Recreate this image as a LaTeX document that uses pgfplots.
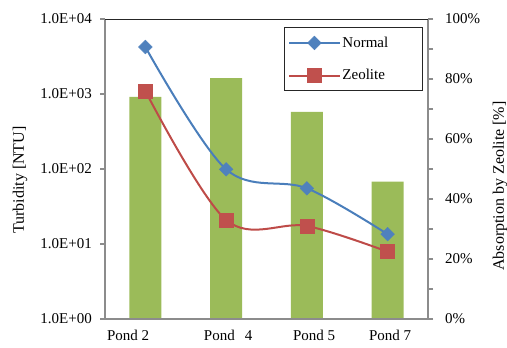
\documentclass[border=0pt]{standalone}
\usepackage{fontspec}
\setmainfont{Liberation Serif}
\usepackage{pgfplots}
\pgfplotsset{compat=1.18}
\definecolor{exblue}{HTML}{4A7EBB}
\definecolor{exbluem}{HTML}{4F81BD}
\definecolor{exred}{HTML}{BE4B48}
\definecolor{exredm}{HTML}{C0504D}
\definecolor{exgreen}{HTML}{9BBB59}
\definecolor{axgray}{HTML}{8C8C8C}
\begin{document}
\fontsize{15bp}{18bp}\selectfont
\begin{tikzpicture}
\useasboundingbox (0,0) rectangle (507bp,348bp);
% right axis: absorption bars
\begin{axis}[
  at={(105bp,29bp)}, anchor=south west,
  scale only axis, width=323bp, height=300bp,
  xmin=-0.5, xmax=3.5, ymin=0, ymax=100,
  axis x line=none,
  axis y line*=right,
  axis line style={-, axgray, line width=1.2bp},
  ytick={0,10,...,100},
  yticklabels={0\%,,20\%,,40\%,,60\%,,80\%,,100\%},
  ytick style={axgray, line width=1.2bp},
  major tick length=5bp,
  tick align=outside,
  yticklabel style={font=\fontsize{15bp}{18bp}\selectfont, xshift=7bp},
  ylabel={Absorption by Zeolite [\%]},
  every axis y label/.style={at={(axis description cs:1.223,0.443)}, rotate=90, anchor=center, font=\fontsize{16bp}{19bp}\selectfont},
]
\addplot[ybar, bar width=32bp, bar shift=0pt, fill=exgreen, draw=none]
  coordinates {(0,74.0) (1,80.3) (2,69.0) (3,45.8)};
\end{axis}
% left axis: turbidity
\begin{axis}[
  at={(105bp,29bp)}, anchor=south west,
  scale only axis, width=323bp, height=300bp,
  xmin=-0.5, xmax=3.5, ymode=log, ymin=1, ymax=10000,
  axis x line*=bottom, axis y line*=left,
  axis line style={-, axgray, line width=1.2bp},
  xtick={-0.213,1.025,2.09,3.03},
  xticklabels={Pond 2, Pond\hspace{10bp}4, Pond 5, Pond 7},
  xtick style={draw=none},
  xticklabel style={font=\fontsize{15bp}{18bp}\selectfont, yshift=-5bp, inner sep=1bp},
  ytick={1,10,100,1000,10000},
  yticklabels={1.0E+00,1.0E+01,1.0E+02,1.0E+03,1.0E+04},
  ytick style={axgray, line width=1.2bp},
  major tick length=5bp, minor tick length=0pt,
  tick align=outside,
  yticklabel style={font=\fontsize{15bp}{18bp}\selectfont, xshift=-3bp},
  ylabel={Turbidity [NTU]},
  every axis y label/.style={at={(axis description cs:-0.263,0.463)}, rotate=90, anchor=center, font=\fontsize{16bp}{19bp}\selectfont},
  legend style={at={(rel axis cs:0.554,0.973)}, anchor=north west, draw=black!85, line width=1bp, fill=white,
    font=\fontsize{15bp}{18bp}\selectfont, inner xsep=4bp, inner ysep=7bp, /tikz/row sep=16bp},
  legend cell align=left,
  legend image code/.code={\draw[mark repeat=2,mark phase=2] plot coordinates {(0bp,0bp) (25bp,0bp) (50bp,0bp)};},
]
\addplot[exblue, line width=2bp, smooth, tension=0.55, mark=square*, mark size=4.8bp,
  mark options={rotate=45, fill=exbluem, draw=exbluem, solid, line width=0.5bp}]
  coordinates {(0,4236) (1,99) (2,55.3) (3,13.5)};
\addlegendentry{\makebox[74bp][l]{Normal}}
\addplot[exred, line width=2bp, smooth, tension=0.55, mark=square*, mark size=7bp,
  mark options={fill=exredm, draw=exredm, solid, line width=0.5bp}]
  coordinates {(0,1096) (1,20.9) (2,17.4) (3,7.9)};
\addlegendentry{\makebox[74bp][l]{Zeolite}}
\draw[black!85, line width=1bp] (rel axis cs:0,1) -- (rel axis cs:1,1);
\end{axis}
\end{tikzpicture}
\end{document}
